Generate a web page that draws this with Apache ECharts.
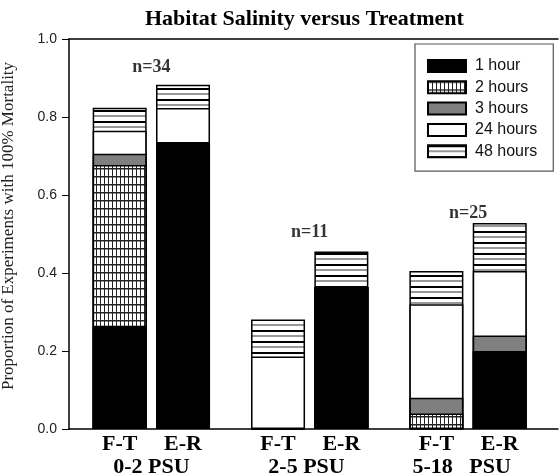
<!DOCTYPE html>
<html>
<head>
<meta charset="utf-8">
<script src="https://cdn.jsdelivr.net/npm/echarts@6/dist/echarts.min.js"></script>
<style>
html,body{margin:0;padding:0;background:#fff;}
#chart{width:559px;height:476px;}
</style>
</head>
<body>
<div id="chart"></div>
<script>
// ---- data ----
const barLabels = ['F-T', 'E-R', 'F-T', 'E-R', 'F-T', 'E-R'];
const barPositions = [1, 2, 3.5, 4.5, 6, 7];
const groupNames = ['0-2 PSU', '2-5 PSU', '5-18   PSU'];
const groupPositions = [1.5, 3.95, 6.4];
const seriesNames = ['1 hour', '2 hours', '3 hours', '24 hours', '48 hours'];
const oneHour      = [0.265, 0.735, 0,     0.364, 0,     0.200];
const twoHours     = [0.412, 0,     0,     0,     0.040, 0];
const threeHours   = [0.029, 0,     0,     0,     0.040, 0.040];
const twentyFourHr = [0.059, 0.088, 0.186, 0,     0.240, 0.165];
const fortyEightHr = [0.059, 0.060, 0.095, 0.091, 0.085, 0.123];
const nLabelText = ['n=34', 'n=11', 'n=25'];
const nLabelX = [1.5, 4, 6.5];
const nLabelY = [0.928, 0.503, 0.554];
const yTickLabels = ['0.0', '0.2', '0.4', '0.6', '0.8', '1.0'];

// ---- patterns ----
function makePattern(w, h, draw) {
  const c = document.createElement('canvas');
  c.width = w; c.height = h;
  const ctx = c.getContext('2d');
  ctx.fillStyle = '#fff';
  ctx.fillRect(0, 0, w, h);
  draw(ctx);
  return { image: c, repeat: 'repeat' };
}
const gridPattern = makePattern(4, 8, function (ctx) {
  ctx.fillStyle = '#222';
  ctx.fillRect(0, 0, 1, 8);
  ctx.fillRect(0, 0, 4, 1.5);
});
const linePattern = makePattern(4, 11, function (ctx) {
  ctx.fillStyle = '#000';
  ctx.fillRect(0, 0, 4, 2);
  ctx.fillStyle = '#333';
  ctx.fillRect(0, 5.5, 4, 1);
});

const fills = ['#000000', gridPattern, '#7f7f7f', '#ffffff', linePattern];
const values = [oneHour, twoHours, threeHours, twentyFourHr, fortyEightHr];

// cumulative tops of each segment (segments drawn back-to-front)
const cumulative = values.map(function (arr, k) {
  return arr.map(function (_, i) {
    let s = 0;
    for (let j = 0; j <= k; j++) s += values[j][i];
    return s;
  });
});

const barSeries = [];
for (let k = seriesNames.length - 1; k >= 0; k--) {
  barSeries.push({
    name: seriesNames[k],
    type: 'bar',
    barWidth: 54,
    barGap: '-100%',
    itemStyle: { color: fills[k], borderColor: '#000', borderWidth: 1.5 },
    emphasis: { disabled: true },
    data: cumulative[k].map(function (v, i) { return [barPositions[i], v]; })
  });
}

const serif = 'Liberation Serif';
const sans = 'Liberation Sans';

function labelAt(list, names) {
  return function (val) {
    for (let i = 0; i < list.length; i++) {
      if (Math.abs(list[i] - val) < 1e-6) return names[i];
    }
    return '';
  };
}

const chart = echarts.init(document.getElementById('chart'), null, { renderer: 'canvas' });
chart.setOption({
  animation: false,
  backgroundColor: '#fff',
  title: {
    text: 'Habitat Salinity versus Treatment',
    left: 140, top: 3,
    textStyle: { fontFamily: serif, fontWeight: 'bold', fontSize: 22, color: '#000' }
  },
  legend: {
    orient: 'vertical',
    left: 415, top: 44,
    padding: [14, 16, 12, 12],
    itemWidth: 38, itemHeight: 12, itemGap: 5.3,
    icon: 'rect',
    borderColor: '#555', borderWidth: 1.2,
    backgroundColor: '#fff',
    data: seriesNames,
    textStyle: { fontFamily: sans, fontSize: 16, color: '#111', lineHeight: 16, padding: [0, 0, 0, 4] }
  },
  grid: { left: 69, right: 1, top: 39, bottom: 47, containLabel: false, outerBoundsMode: 'none' },
  xAxis: [
    {
      type: 'value', min: 0.2, max: 7.92, position: 'bottom',
      splitLine: { show: false },
      axisLine: { show: true, onZero: false, lineStyle: { color: '#000', width: 1.5 } },
      axisTick: { show: false },
      axisLabel: {
        customValues: barPositions,
        formatter: labelAt(barPositions, barLabels),
        margin: 4,
        fontFamily: serif, fontWeight: 'bold', fontSize: 22, color: '#000'
      }
    },
    {
      type: 'value', min: 0.2, max: 7.92, position: 'bottom',
      splitLine: { show: false },
      axisLine: { show: false },
      axisTick: { show: false },
      axisLabel: {
        customValues: groupPositions,
        formatter: labelAt(groupPositions, groupNames),
        margin: 27,
        fontFamily: serif, fontWeight: 'bold', fontSize: 22, color: '#000'
      }
    },
    {
      type: 'value', min: 0.2, max: 7.92, position: 'top',
      splitLine: { show: false },
      axisLine: { show: true, onZero: false, lineStyle: { color: '#000', width: 1.5 } },
      axisTick: { show: false },
      axisLabel: { show: false }
    }
  ],
  yAxis: {
    type: 'value', min: 0, max: 1, interval: 0.2,
    name: 'Proportion of Experiments with 100% Mortality',
    nameLocation: 'middle', nameGap: 52,
    nameTextStyle: { fontFamily: serif, fontSize: 17, color: '#222', padding: [0, 0, 0, 16] },
    splitLine: { show: false },
    axisLine: { show: true, onZero: false, lineStyle: { color: '#000', width: 1.5 } },
    axisTick: { show: true, length: 7, lineStyle: { color: '#000', width: 1 } },
    axisLabel: {
      margin: 12,
      formatter: function (v) { return yTickLabels[Math.round(v / 0.2)]; },
      fontFamily: sans, fontSize: 14, color: '#222'
    }
  },
  series: barSeries.concat([{
    type: 'scatter',
    symbolSize: 0,
    silent: true,
    z: 10,
    data: nLabelText.map(function (t, i) { return [nLabelX[i], nLabelY[i], t]; }),
    label: {
      show: true, position: 'inside',
      formatter: function (p) { return p.data[2]; },
      fontFamily: serif, fontWeight: 'bold', fontSize: 18, color: '#000'
    }
  }])
});
</script>
</body>
</html>
